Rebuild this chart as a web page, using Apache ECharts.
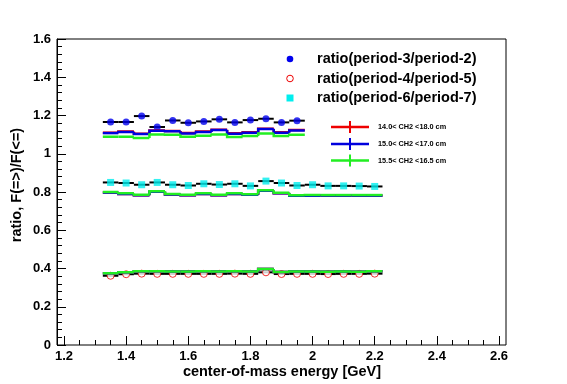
<!DOCTYPE html>
<html>
<head>
<meta charset="utf-8">
<script src="https://cdn.jsdelivr.net/npm/echarts@6/dist/echarts.min.js"></script>
<style>html,body{margin:0;padding:0;background:#fff;}#c{width:567px;height:384px;}</style>
</head>
<body>
<div id="c"></div>
<script>
// ---- data ----
var energies13 = [1.35,1.40,1.45,1.50,1.55,1.60,1.65,1.70,1.75,1.80,1.85,1.90,1.95];
var energies18 = [1.35,1.40,1.45,1.50,1.55,1.60,1.65,1.70,1.75,1.80,1.85,1.90,1.95,2.00,2.05,2.10,2.15,2.20];
var xTicks = [1.2,1.4,1.6,1.8,2,2.2,2.4,2.6];

// markers (ratio values)
var ratio32 = [1.166,1.166,1.197,1.140,1.174,1.162,1.169,1.180,1.164,1.176,1.183,1.164,1.173];
var ratio67 = [0.850,0.847,0.838,0.850,0.838,0.834,0.843,0.839,0.843,0.832,0.857,0.847,0.834,0.838,0.832,0.832,0.831,0.829];
var ratio45 = [0.362,0.370,0.373,0.372,0.372,0.372,0.372,0.372,0.373,0.372,0.380,0.371,0.372,0.372,0.371,0.372,0.372,0.373];

// CH2 cut histograms, ratio(period-3/period-2)
var top_14_18 = [1.110,1.116,1.105,1.122,1.119,1.108,1.116,1.126,1.107,1.112,1.131,1.112,1.124];
var top_15_17 = [1.108,1.114,1.103,1.120,1.117,1.106,1.114,1.124,1.105,1.110,1.129,1.110,1.122];
var top_155_165 = [1.089,1.089,1.082,1.101,1.099,1.089,1.094,1.101,1.087,1.093,1.106,1.093,1.099];
// ratio(period-6/period-7)
var mid_14_18 = [0.797,0.790,0.783,0.801,0.787,0.783,0.790,0.783,0.790,0.785,0.806,0.793,0.780,0.781,0.781,0.781,0.781,0.781];
var mid_15_17 = [0.797,0.790,0.783,0.801,0.787,0.783,0.790,0.783,0.790,0.785,0.806,0.793,0.780,0.781,0.781,0.781,0.781,0.781];
var mid_155_165 = [0.800,0.793,0.786,0.804,0.790,0.786,0.793,0.786,0.793,0.788,0.809,0.796,0.783,0.784,0.784,0.784,0.784,0.784];
// ratio(period-4/period-5)
var bot_14_18 = [0.375,0.381,0.386,0.385,0.384,0.384,0.385,0.384,0.386,0.384,0.397,0.382,0.384,0.384,0.383,0.384,0.383,0.386];
var bot_15_17 = [0.375,0.381,0.386,0.385,0.384,0.384,0.385,0.384,0.386,0.384,0.397,0.382,0.384,0.384,0.383,0.384,0.383,0.386];
var bot_155_165 = [0.375,0.381,0.386,0.385,0.384,0.384,0.385,0.384,0.386,0.384,0.397,0.382,0.384,0.384,0.383,0.384,0.383,0.386];

var HALF = 0.025; // half bin width
var RED = '#ee0000', BLUE = '#0000dd', GREEN = '#22ee22';

function stepSeries(xs, ys, color, z) {
  return {
    type: 'custom', xAxisIndex: 0, yAxisIndex: 0, z: z, silent: true,
    data: xs.map(function (x, i) { return [x, ys[i], i > 0 ? ys[i - 1] : ys[i]]; }),
    encode: { x: 0, y: 1 },
    renderItem: function (params, api) {
      var x = api.value(0), y = api.value(1), py = api.value(2);
      var a = api.coord([x - HALF, py]), b = api.coord([x - HALF, y]), c = api.coord([x + HALF, y]);
      return { type: 'polyline', shape: { points: [a, b, c] }, style: { stroke: color, lineWidth: 2.5, fill: null } };
    }
  };
}
function barSeries(xs, ys, z) {
  return {
    type: 'custom', xAxisIndex: 0, yAxisIndex: 0, z: z, silent: true,
    data: xs.map(function (x, i) { return [x, ys[i]]; }),
    encode: { x: 0, y: 1 },
    renderItem: function (params, api) {
      var x = api.value(0), y = api.value(1);
      var a = api.coord([x - HALF, y]), b = api.coord([x + HALF, y]);
      return { type: 'line', shape: { x1: a[0], y1: a[1], x2: b[0], y2: b[1] }, style: { stroke: '#000', lineWidth: 2 } };
    }
  };
}
function pairs(xs, ys) { return xs.map(function (x, i) { return [x, ys[i]]; }); }

var FONT = 'Liberation Sans, Arial, Helvetica, sans-serif';
var chart = echarts.init(document.getElementById('c'), null, { renderer: 'canvas' });
var option = {
  animation: false,
  backgroundColor: '#fff',
  grid: [
    { left: 57, right: 61, top: 39, bottom: 39, show: true, borderColor: '#000', borderWidth: 1 },
    { left: 64, right: 68, top: 39, bottom: 39, show: false }
  ],
  xAxis: [
    { gridIndex: 0, type: 'value', min: 1.1775, max: 2.6225, show: false },
    { gridIndex: 1, type: 'value', min: 1.2, max: 2.6, interval: 0.2,
      axisLine: { show: false },
      axisTick: { show: true, inside: true, length: 9, lineStyle: { color: '#000' }, customValues: xTicks },
      minorTick: { show: true, splitNumber: 4, length: 5, lineStyle: { color: '#000' } },
      splitLine: { show: false },
      axisLabel: { margin: 5, color: '#000', fontFamily: FONT, fontWeight: 'bold', fontSize: 13, customValues: xTicks }
    }
  ],
  yAxis: [
    { gridIndex: 0, type: 'value', min: 0, max: 1.6, interval: 0.2,
      axisLine: { show: true, lineStyle: { color: '#000' } },
      axisTick: { show: true, inside: true, length: 9, lineStyle: { color: '#000' } },
      minorTick: { show: true, splitNumber: 5, length: 5, lineStyle: { color: '#000' } },
      splitLine: { show: false },
      axisLabel: { margin: 6, color: '#000', fontFamily: FONT, fontWeight: 'bold', fontSize: 13 }
    },
    { gridIndex: 1, type: 'value', min: 0, max: 1.6, show: false }
  ],
  series: [
    barSeries(energies13, ratio32, 3),
    barSeries(energies18, ratio67, 3),
    barSeries(energies18, ratio45, 3),
    { type: 'scatter', name: 'ratio(period-3/period-2)', z: 4, silent: true, symbol: 'circle', symbolSize: 7,
      itemStyle: { color: '#0000ee' }, data: pairs(energies13, ratio32) },
    { type: 'scatter', name: 'ratio(period-6/period-7)', z: 4, silent: true, symbol: 'rect', symbolSize: 7,
      itemStyle: { color: '#00eeee' }, data: pairs(energies18, ratio67) },
    { type: 'scatter', name: 'ratio(period-4/period-5)', z: 4, silent: true, symbol: 'circle', symbolSize: 7,
      itemStyle: { color: '#fff', borderColor: '#ee0000', borderWidth: 1 }, data: pairs(energies18, ratio45) },
    stepSeries(energies13, top_14_18, RED, 5),
    stepSeries(energies13, top_15_17, BLUE, 6),
    stepSeries(energies13, top_155_165, GREEN, 7),
    stepSeries(energies18, mid_14_18, RED, 5),
    stepSeries(energies18, mid_15_17, BLUE, 6),
    stepSeries(energies18, mid_155_165, GREEN, 7),
    stepSeries(energies18, bot_14_18, RED, 5),
    stepSeries(energies18, bot_15_17, BLUE, 6),
    stepSeries(energies18, bot_155_165, GREEN, 7)
  ],
  graphic: [
    { type: 'text', x: 17, y: 185, rotation: Math.PI / 2,
      style: { text: 'ratio, F(=>)/F(<=)', fill: '#000', font: 'bold 14.5px ' + FONT, textAlign: 'center', textVerticalAlign: 'middle' } },
    { type: 'text', x: 282, y: 372,
      style: { text: 'center-of-mass energy [GeV]', fill: '#000', font: 'bold 14.5px ' + FONT, textAlign: 'center', textVerticalAlign: 'middle' } },
    // legend 1
    { type: 'circle', shape: { cx: 290, cy: 59, r: 3.3 }, style: { fill: '#0000ee' } },
    { type: 'text', x: 317, y: 59, style: { text: 'ratio(period-3/period-2)', fill: '#000', font: 'bold 14.5px ' + FONT, textVerticalAlign: 'middle' } },
    { type: 'circle', shape: { cx: 290, cy: 78.5, r: 3.3 }, style: { fill: '#fff', stroke: '#ee0000', lineWidth: 1 } },
    { type: 'text', x: 317, y: 78.5, style: { text: 'ratio(period-4/period-5)', fill: '#000', font: 'bold 14.5px ' + FONT, textVerticalAlign: 'middle' } },
    { type: 'rect', shape: { x: 286.5, y: 94.5, width: 7, height: 7 }, style: { fill: '#00eeee' } },
    { type: 'text', x: 317, y: 98, style: { text: 'ratio(period-6/period-7)', fill: '#000', font: 'bold 14.5px ' + FONT, textVerticalAlign: 'middle' } },
    // legend 2
    { type: 'line', shape: { x1: 331, y1: 127, x2: 369, y2: 127 }, style: { stroke: RED, lineWidth: 2.5 } },
    { type: 'line', shape: { x1: 350, y1: 121, x2: 350, y2: 133 }, style: { stroke: RED, lineWidth: 2 } },
    { type: 'text', x: 378, y: 127, style: { text: '14.0< CH2 <18.0 cm', fill: '#000', font: 'bold 7.3px ' + FONT, textVerticalAlign: 'middle' } },
    { type: 'line', shape: { x1: 331, y1: 144, x2: 369, y2: 144 }, style: { stroke: BLUE, lineWidth: 2.5 } },
    { type: 'line', shape: { x1: 350, y1: 138, x2: 350, y2: 150 }, style: { stroke: BLUE, lineWidth: 2 } },
    { type: 'text', x: 378, y: 144, style: { text: '15.0< CH2 <17.0 cm', fill: '#000', font: 'bold 7.3px ' + FONT, textVerticalAlign: 'middle' } },
    { type: 'line', shape: { x1: 331, y1: 160.5, x2: 369, y2: 160.5 }, style: { stroke: GREEN, lineWidth: 2.5 } },
    { type: 'line', shape: { x1: 350, y1: 154.5, x2: 350, y2: 166.5 }, style: { stroke: GREEN, lineWidth: 2 } },
    { type: 'text', x: 378, y: 160.5, style: { text: '15.5< CH2 <16.5 cm', fill: '#000', font: 'bold 7.3px ' + FONT, textVerticalAlign: 'middle' } }
  ]
};
chart.setOption(option);
</script>
</body>
</html>
